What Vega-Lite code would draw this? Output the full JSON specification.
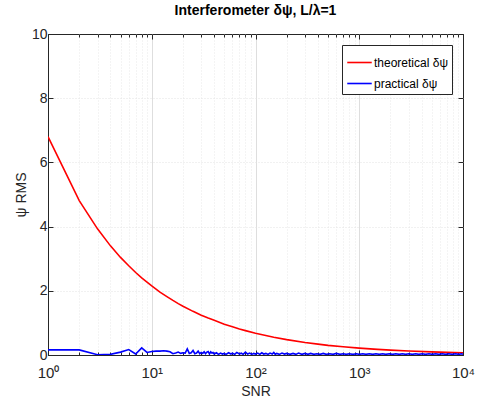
{
  "$schema": "https://vega.github.io/schema/vega-lite/v6.json",
  "autosize": {"type": "none"},
  "width": 415,
  "height": 321,
  "padding": {"left": 48, "top": 34, "right": 14, "bottom": 45},
  "background": "white",
  "config": {
    "font": "Liberation Sans",
    "view": {"stroke": "#262626", "strokeWidth": 1}
  },
  "title": {"text": "Interferometer δψ, L/λ=1", "fontSize": 14, "fontWeight": "bold", "color": "#000000", "offset": 9, "anchor": "middle"},
  "datasets": {
    "theo": [
      {"snr": 1, "v": 6.8}, {"snr": 2, "v": 4.81}, {"snr": 3, "v": 3.93}, {"snr": 4, "v": 3.4}, {"snr": 5, "v": 3.04},
      {"snr": 6, "v": 2.78}, {"snr": 7, "v": 2.57}, {"snr": 8, "v": 2.4}, {"snr": 9, "v": 2.27}, {"snr": 10, "v": 2.15},
      {"snr": 12, "v": 1.96}, {"snr": 14, "v": 1.82}, {"snr": 16, "v": 1.7}, {"snr": 18, "v": 1.6}, {"snr": 20, "v": 1.52},
      {"snr": 25, "v": 1.36}, {"snr": 30, "v": 1.24}, {"snr": 35, "v": 1.15}, {"snr": 40, "v": 1.08}, {"snr": 50, "v": 0.96},
      {"snr": 60, "v": 0.88}, {"snr": 70, "v": 0.81}, {"snr": 80, "v": 0.76}, {"snr": 100, "v": 0.68}, {"snr": 150, "v": 0.555},
      {"snr": 200, "v": 0.48}, {"snr": 300, "v": 0.39}, {"snr": 400, "v": 0.34}, {"snr": 500, "v": 0.3}, {"snr": 700, "v": 0.257},
      {"snr": 1000, "v": 0.215}, {"snr": 1500, "v": 0.176}, {"snr": 2000, "v": 0.152}, {"snr": 3000, "v": 0.124}, {"snr": 5000, "v": 0.096},
      {"snr": 7000, "v": 0.081}, {"snr": 10000, "v": 0.068}
    ],
    "prac": [
      {"snr": 1, "v": 0.16}, {"snr": 2, "v": 0.16}, {"snr": 3, "v": 0.01}, {"snr": 4, "v": 0.02}, {"snr": 5, "v": 0.09},
      {"snr": 6, "v": 0.17}, {"snr": 7, "v": 0.03}, {"snr": 8, "v": 0.22}, {"snr": 9, "v": 0.08}, {"snr": 10, "v": 0.11},
      {"snr": 11, "v": 0.12}, {"snr": 12, "v": 0.12}, {"snr": 13, "v": 0.13}, {"snr": 14, "v": 0.12}, {"snr": 15, "v": 0.1},
      {"snr": 16, "v": 0.04}, {"snr": 17, "v": 0.06}, {"snr": 18, "v": 0.09}, {"snr": 19, "v": 0.05}, {"snr": 20, "v": 0.07},
      {"snr": 21, "v": 0.06}, {"snr": 22, "v": 0.19}, {"snr": 23, "v": 0.05}, {"snr": 24, "v": 0.07}, {"snr": 25, "v": 0.14},
      {"snr": 26, "v": 0.04}, {"snr": 27, "v": 0.06}, {"snr": 28, "v": 0.12}, {"snr": 29, "v": 0.04}, {"snr": 30, "v": 0.08},
      {"snr": 31, "v": 0.05}, {"snr": 32, "v": 0.1}, {"snr": 33, "v": 0.04}, {"snr": 34, "v": 0.09}, {"snr": 35, "v": 0.11},
      {"snr": 36, "v": 0.03}, {"snr": 37, "v": 0.1}, {"snr": 38, "v": 0.06}, {"snr": 39, "v": 0.08}, {"snr": 40, "v": 0.03},
      {"snr": 42, "v": 0.07}, {"snr": 44, "v": 0.02}, {"snr": 46, "v": 0.06}, {"snr": 48, "v": 0.03}, {"snr": 50, "v": 0.05},
      {"snr": 52, "v": 0.02}, {"snr": 55, "v": 0.07}, {"snr": 58, "v": 0.03}, {"snr": 60, "v": 0.06}, {"snr": 63, "v": 0.02},
      {"snr": 66, "v": 0.08}, {"snr": 70, "v": 0.03}, {"snr": 73, "v": 0.06}, {"snr": 76, "v": 0.02}, {"snr": 80, "v": 0.09},
      {"snr": 84, "v": 0.03}, {"snr": 88, "v": 0.06}, {"snr": 92, "v": 0.02}, {"snr": 96, "v": 0.05}, {"snr": 100, "v": 0.03},
      {"snr": 105, "v": 0.06}, {"snr": 110, "v": 0.02}, {"snr": 115, "v": 0.07}, {"snr": 120, "v": 0.03}, {"snr": 126, "v": 0.05},
      {"snr": 132, "v": 0.02}, {"snr": 138, "v": 0.06}, {"snr": 145, "v": 0.03}, {"snr": 150, "v": 0.08}, {"snr": 155, "v": 0.02},
      {"snr": 160, "v": 0.05}, {"snr": 170, "v": 0.02}, {"snr": 180, "v": 0.06}, {"snr": 190, "v": 0.03}, {"snr": 200, "v": 0.05},
      {"snr": 215, "v": 0.02}, {"snr": 230, "v": 0.05}, {"snr": 245, "v": 0.02}, {"snr": 260, "v": 0.06}, {"snr": 280, "v": 0.02},
      {"snr": 300, "v": 0.05}, {"snr": 320, "v": 0.02}, {"snr": 340, "v": 0.05}, {"snr": 365, "v": 0.02}, {"snr": 390, "v": 0.04},
      {"snr": 420, "v": 0.02}, {"snr": 450, "v": 0.05}, {"snr": 480, "v": 0.02}, {"snr": 520, "v": 0.04}, {"snr": 560, "v": 0.02},
      {"snr": 600, "v": 0.05}, {"snr": 650, "v": 0.02}, {"snr": 700, "v": 0.04}, {"snr": 750, "v": 0.02}, {"snr": 800, "v": 0.04},
      {"snr": 870, "v": 0.02}, {"snr": 940, "v": 0.04}, {"snr": 1000, "v": 0.02}, {"snr": 1080, "v": 0.04}, {"snr": 1160, "v": 0.02},
      {"snr": 1250, "v": 0.04}, {"snr": 1350, "v": 0.02}, {"snr": 1450, "v": 0.04}, {"snr": 1560, "v": 0.02}, {"snr": 1680, "v": 0.04},
      {"snr": 1800, "v": 0.02}, {"snr": 1950, "v": 0.04}, {"snr": 2100, "v": 0.02}, {"snr": 2250, "v": 0.04}, {"snr": 2430, "v": 0.02},
      {"snr": 2600, "v": 0.04}, {"snr": 2800, "v": 0.02}, {"snr": 3000, "v": 0.04}, {"snr": 3250, "v": 0.02}, {"snr": 3500, "v": 0.04},
      {"snr": 3750, "v": 0.02}, {"snr": 4050, "v": 0.04}, {"snr": 4350, "v": 0.02}, {"snr": 4700, "v": 0.04}, {"snr": 5050, "v": 0.02},
      {"snr": 5450, "v": 0.04}, {"snr": 5850, "v": 0.02}, {"snr": 6300, "v": 0.04}, {"snr": 6800, "v": 0.02}, {"snr": 7300, "v": 0.04},
      {"snr": 7850, "v": 0.02}, {"snr": 8450, "v": 0.04}, {"snr": 9100, "v": 0.02}, {"snr": 9700, "v": 0.04}, {"snr": 10000, "v": 0.02}
    ]
  },
  "resolve": {"axis": {"x": "independent", "y": "independent"}},
  "layer": [
    {
      "data": {"name": "theo"},
      "transform": [{"calculate": "'theoretical δψ'", "as": "series"}],
      "mark": {"type": "line", "strokeWidth": 1.6, "clip": true},
      "encoding": {
        "x": {
          "field": "snr", "type": "quantitative",
          "scale": {"type": "log", "domain": [1, 10000], "nice": false},
          "axis": {
            "title": "SNR", "titleFontSize": 14, "titleFontWeight": "normal", "titleColor": "#262626", "titlePadding": 2,
            "values": [1,2,3,4,5,6,7,8,9,10,20,30,40,50,60,70,80,90,100,200,300,400,500,600,700,800,900,1000,2000,3000,4000,5000,6000,7000,8000,9000,10000],
            "labelExpr": "datum.value == 1 ? '10⁰' : datum.value == 10 ? '10¹' : datum.value == 100 ? '10²' : datum.value == 1000 ? '10³' : datum.value == 10000 ? '10⁴' : ''",
            "labelFontSize": 15, "labelColor": "#262626", "labelPadding": 15, "labelFlush": false, "labelOverlap": false,
            "domainColor": "#262626",
            "tickColor": "#262626",
            "tickSize": {"condition": {"test": "indexof([1,10,100,1000,10000], datum.value) >= 0", "value": -5}, "value": -3},
            "grid": true,
            "gridColor": {"condition": {"test": "indexof([1,10,100,1000,10000], datum.value) >= 0", "value": "#dedede"}, "value": "#e8e8e8"},
            "gridDash": {"condition": {"test": "indexof([1,10,100,1000,10000], datum.value) >= 0", "value": []}, "value": [1, 2]},
            "gridOpacity": {"condition": {"test": "datum.value == 1 || datum.value == 10000", "value": 0}, "value": 1}
          }
        },
        "y": {
          "field": "v", "type": "quantitative",
          "scale": {"domain": [0, 10], "nice": false},
          "axis": {
            "title": "ψ RMS", "titleFontSize": 14, "titleFontWeight": "normal", "titleColor": "#262626", "titlePadding": 3,
            "values": [0, 2, 4, 6, 8, 10],
            "labelFontSize": 14, "labelColor": "#262626", "labelPadding": 6,
            "domainColor": "#262626", "tickColor": "#262626", "tickSize": -5,
            "grid": true, "gridColor": "#e3e3e3", "gridDash": [1, 2],
            "gridOpacity": {"condition": {"test": "datum.value == 0 || datum.value == 10", "value": 0}, "value": 1}
          }
        },
        "color": {
          "field": "series", "type": "nominal",
          "scale": {"domain": ["theoretical δψ", "practical δψ"], "range": ["#ff0000", "#0000ff"]},
          "legend": {
            "title": null, "orient": "top-right", "offset": 11,
            "fillColor": "white", "strokeColor": "#262626", "padding": 4,
            "symbolType": "stroke", "symbolSize": 600, "symbolStrokeWidth": 1.6,
            "labelFontSize": 12, "labelColor": "#000000", "rowPadding": 1, "labelOffset": 1
          }
        }
      }
    },
    {
      "data": {"name": "prac"},
      "transform": [{"calculate": "'practical δψ'", "as": "series"}],
      "mark": {"type": "line", "strokeWidth": 1.6, "clip": true},
      "encoding": {
        "x": {
          "field": "snr", "type": "quantitative",
          "axis": {
            "orient": "top", "title": null, "labels": false, "grid": false, "domain": false,
            "values": [1,2,3,4,5,6,7,8,9,10,20,30,40,50,60,70,80,90,100,200,300,400,500,600,700,800,900,1000,2000,3000,4000,5000,6000,7000,8000,9000,10000],
            "tickColor": "#262626",
            "tickSize": {"condition": {"test": "indexof([1,10,100,1000,10000], datum.value) >= 0", "value": -5}, "value": -3}
          }
        },
        "y": {
          "field": "v", "type": "quantitative",
          "axis": {
            "orient": "right", "title": null, "labels": false, "grid": false, "domain": false,
            "values": [0, 2, 4, 6, 8, 10], "tickColor": "#262626", "tickSize": -5
          }
        },
        "color": {"field": "series", "type": "nominal"}
      }
    }
  ]
}
